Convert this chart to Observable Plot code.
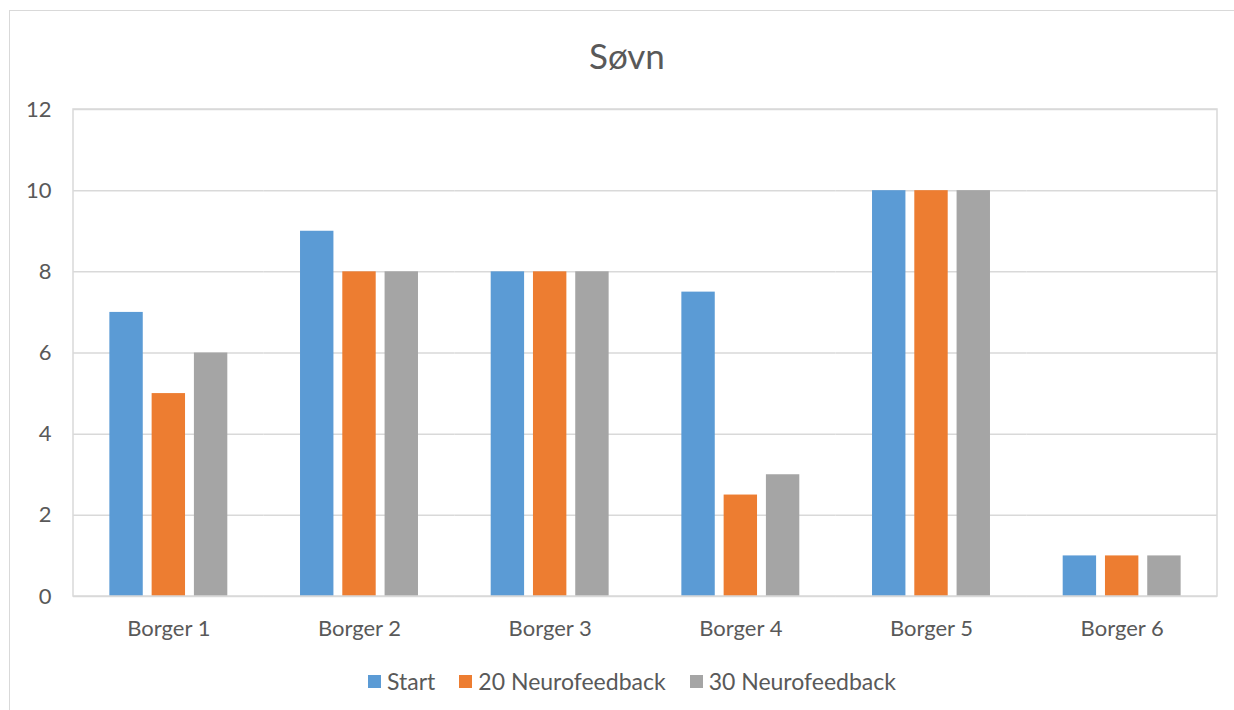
<!DOCTYPE html>
<html>
<head>
<meta charset="utf-8">
<script src="https://cdn.jsdelivr.net/npm/d3@7"></script>
<script src="https://cdn.jsdelivr.net/npm/@observablehq/plot@0.6"></script>
<style>
  html, body { margin: 0; padding: 0; background: #fff; }
  #wrap { position: relative; width: 1234px; height: 710px; overflow: hidden; font-family: Lato, "Open Sans", sans-serif; color: #595959; }
  #frame { position: absolute; left: 9px; top: 10px; width: 1300px; height: 800px; border: 1.5px solid #d9d9d9; box-sizing: border-box; }
  #title { position: absolute; left: 0; width: 1254px; top: 33px; text-align: center; font-size: 35px; color: #595959; line-height: 44px; }
  #chart { position: absolute; left: 0; top: 80px; }
  #legend { position: absolute; top: 667px; left: 0; width: 1264px; display: flex; justify-content: center; gap: 24px; font-size: 23px; line-height: 28px; }
  .item { display: flex; align-items: center; gap: 6px; }
  .sw { width: 13px; height: 13px; display: inline-block; }
</style>
</head>
<body>
<div id="wrap">
  <div id="frame"></div>
  <div id="title"></div>
  <div id="chart"></div>
  <div id="legend"></div>
</div>
<script>
const title = "Søvn";
const categories = ["Borger 1", "Borger 2", "Borger 3", "Borger 4", "Borger 5", "Borger 6"];
const seriesNames = ["Start", "20 Neurofeedback", "30 Neurofeedback"];
const seriesColors = ["#5B9BD5", "#ED7D31", "#A5A5A5"];
const startValues = [7, 9, 8, 7.5, 10, 1];
const neuro20Values = [5, 8, 8, 2.5, 10, 1];
const neuro30Values = [6, 8, 8, 3, 10, 1];
const yTicks = [0, 2, 4, 6, 8, 10, 12];

const seriesValues = [startValues, neuro20Values, neuro30Values];
const data = [];
categories.forEach((c, i) => {
  seriesNames.forEach((s, j) => data.push({category: c, series: s, value: seriesValues[j][i]}));
});

document.getElementById("title").textContent = title;

const W = 1234, H = 580;
const mL = 73, mR = 17, mT = 29, mB = 64;

const plot = Plot.plot({
  width: W,
  height: H,
  marginLeft: mL,
  marginRight: mR,
  marginTop: mT,
  marginBottom: mB,
  style: {fontFamily: "Lato, 'Open Sans', sans-serif", fontSize: "22px", color: "#595959", background: "transparent", overflow: "visible"},
  fx: {domain: categories, padding: 0, round: false, axis: "bottom", label: null, tickSize: 0, tickPadding: 24},
  x: {domain: seriesNames, paddingInner: 0.21, paddingOuter: 0.86, round: false, axis: null},
  y: {domain: [0, 12], ticks: yTicks, tickSize: 0, tickPadding: 22, label: null, tickFormat: d => String(d)},
  color: {domain: seriesNames, range: seriesColors},
  marks: [
    Plot.ruleY(yTicks, {stroke: "#d9d9d9", strokeWidth: 1.5, strokeOpacity: 1}),
    Plot.barY(data, {fx: "category", x: "series", y: "value", fill: "series"})
  ]
});
document.getElementById("chart").appendChild(plot);

// plot-area border (left/right edges)
const svg = d3.select(plot);
svg.append("rect")
  .attr("x", mL).attr("y", mT)
  .attr("width", W - mL - mR).attr("height", H - mT - mB)
  .attr("fill", "none").attr("stroke", "#d9d9d9").attr("stroke-width", 1.5);

const legend = d3.select("#legend");
seriesNames.forEach((s, i) => {
  const it = legend.append("div").attr("class", "item");
  it.append("span").attr("class", "sw").style("background", seriesColors[i]);
  it.append("span").text(s);
});
</script>
</body>
</html>
